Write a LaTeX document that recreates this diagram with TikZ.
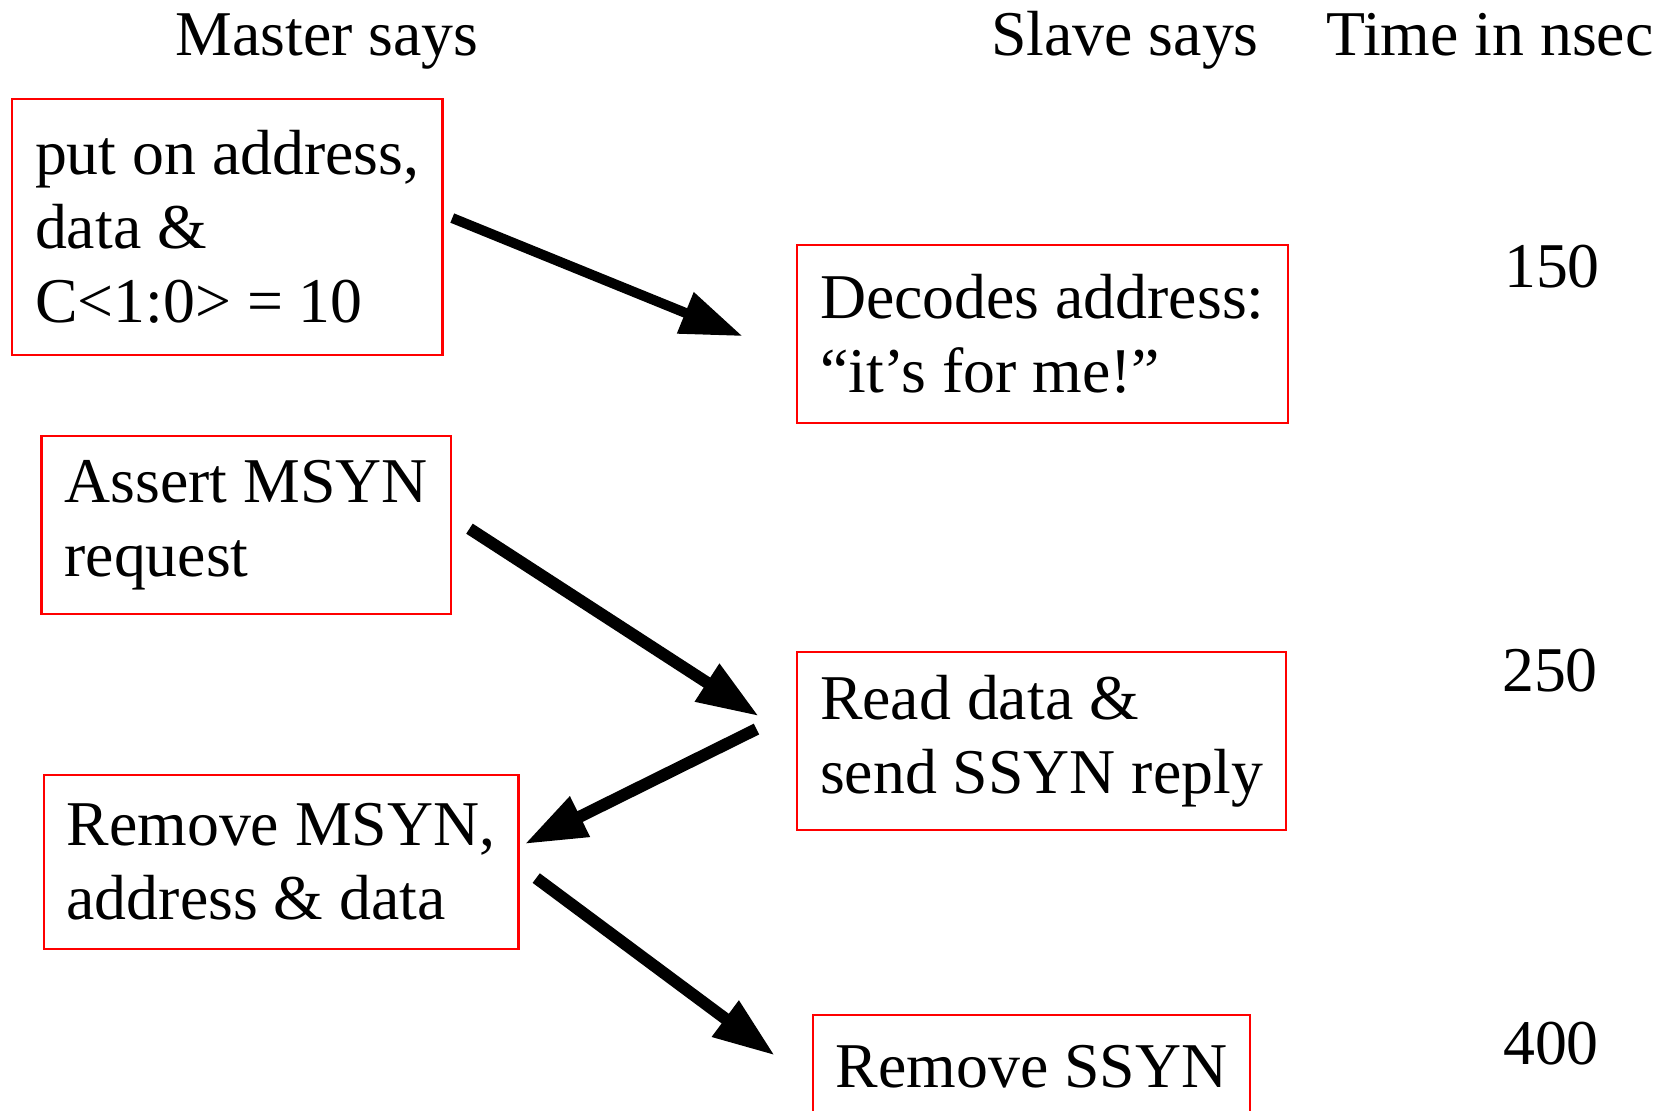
\documentclass[tikz,border=0pt]{standalone}
\usepackage{fontspec}
\setmainfont{Liberation Serif}
\usetikzlibrary{arrows.meta}

\begin{document}
\begin{tikzpicture}[
  box/.style={draw=red,line width=0.6pt,align=left,anchor=north west,inner xsep=0.23cm,minimum height=1.78cm,font=\fontsize{18.15}{21.1}\selectfont},
  head/.style={anchor=base,font=\fontsize{18.15}{21.1}\selectfont},
  flow/.style={line width=0.12cm,-{Triangle[length=0.62cm,width=0.42cm]}}]
\useasboundingbox (0,0) rectangle (16.68,-11.10);
\clip (0,0) rectangle (16.68,-11.10);

\node[head] (mhead) at (3.27,-0.55) {Master says};
\node[head] (shead) at (11.25,-0.55) {Slave says};
\node[head] (thead) at (14.90,-0.55) {Time in nsec};

\node[head] (t150) at (15.52,-2.87) {150};
\node[head] (t250) at (15.50,-6.91) {250};
\node[head] (t400) at (15.51,-10.64) {400};

\node[box,minimum height=2.56cm] (put) at (0.11,-0.98) {put on address,\\data \&\\C<1:0> = 10};
\node[box] (dec) at (7.96,-2.436) {Decodes address:\\``it's for me!''};
\node[box] (msyn) at (0.404,-4.35) {Assert MSYN\\request};
\node[box] (read) at (7.96,-6.51) {Read data \&\\send SSYN reply};
\node[box,minimum height=1.74cm] (rmsyn) at (0.426,-7.74) {Remove MSYN,\\address \& data};
\node[box,minimum height=1.03cm] (rssyn) at (8.117,-10.14) {Remove SSYN};

\draw[flow,line width=0.1cm] ([shift={(0.087,0.09)}]put.east) -- ([shift={(-0.533,-0.025)}]dec.west);
\draw[flow] ([shift={(0.177,-0.036)}]msyn.east) -- ([shift={(-0.37,0.248)}]read.west);
\draw[flow] ([shift={(-0.395,0.12)}]read.west) -- ([shift={(0.05,0.18)}]rmsyn.east);
\draw[flow] ([shift={(0.167,-0.16)}]rmsyn.east) -- ([shift={(-0.367,0.11)}]rssyn.west);

\end{tikzpicture}
\end{document}
